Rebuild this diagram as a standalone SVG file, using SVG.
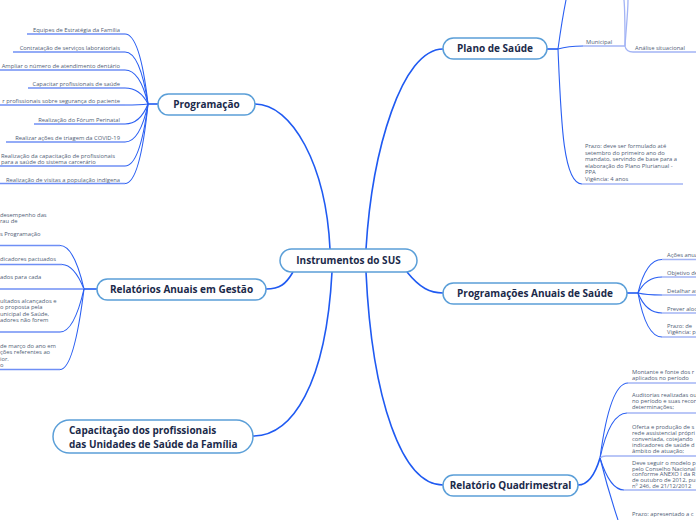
<svg xmlns="http://www.w3.org/2000/svg" width="696" height="520" viewBox="0 0 696 520">
<style>
.node rect{fill:#fff;stroke:#5b9fd8;stroke-width:1.5}
.node text{font-family:"Open Sans","Noto Sans",sans-serif;font-size:10px;font-weight:bold;fill:#1b2a4a;text-anchor:middle}
.main{fill:none;stroke:#1f5af2;stroke-width:1.6}
.br{fill:none;stroke:#2a5ff2;stroke-width:1.1}
.ul{fill:none;stroke:#6f8ff5;stroke-width:1.3}
.ul2{fill:none;stroke:#a3b4f5;stroke-width:1.3}
.lf{font-family:"Open Sans","Noto Sans",sans-serif;font-size:5.8px;fill:#4f5d75}
.r{text-anchor:end}
</style>
<g id="connectors">
<path class="main" d="M330,249 C326,165 292,104 255,104"/>
<path class="main" d="M366,249 C372,150 402,49 443,49"/>
<path class="main" d="M293,272 C286,284 280,289 266,289"/>
<path class="main" d="M332,272 C326,385 292,436 253,436"/>
<path class="main" d="M366,272 C372,400 402,485 443,485"/>
<path class="main" d="M407,272 C420,288 430,293 443,293"/>
<path class="main" d="M158,104 H148"/>
<path class="br" d="M148,104 Q140,34 125,34"/><path class="ul" d="M27,34 H125"/>
<path class="br" d="M148,104 Q140,52 125,52"/><path class="ul" d="M13,52 H125"/>
<path class="br" d="M148,104 Q140,70 125,70"/><path class="ul" d="M0,70 H125"/>
<path class="br" d="M148,104 Q140,88 125,88"/><path class="ul" d="M28,88 H125"/>
<path class="br" d="M148,104 Q140,105 125,105"/><path class="ul" d="M0,105 H125"/>
<path class="br" d="M148,104 Q140,124 125,124"/><path class="ul" d="M34,124 H125"/>
<path class="br" d="M148,104 Q140,142 125,142"/><path class="ul" d="M6,142 H125"/>
<path class="br" d="M148,104 Q140,166 125,166"/><path class="ul" d="M0,166 H125"/>
<path class="br" d="M148,104 Q140,183.5 125,183.5"/><path class="ul" d="M0,183.5 H125"/>
<path class="main" d="M97,289 H84"/>
<path class="br" d="M84,289 Q74,245.5 60,245.5"/><path class="ul" d="M0,245.5 H60"/>
<path class="br" d="M84,289 Q74,264.5 62,264.5"/><path class="ul" d="M0,264.5 H62"/>
<path class="ul" d="M0,289 H84"/>
<path class="br" d="M84,289 Q74,332 60,332"/><path class="ul" d="M0,332 H60"/>
<path class="br" d="M84,289 Q74,369.5 60,369.5"/><path class="ul" d="M0,369.5 H60"/>
<path class="main" d="M547,49 H558"/>
<path class="br" d="M558,49 Q562,20 566,0"/>
<path class="br" d="M558,49 C561,120 563,184 582,184"/><path class="ul2" d="M582,184 H683"/>
<path class="br" d="M558,49 Q568,46 583,46"/><path class="ul2" d="M583,46 H625"/>
<path class="ul2" d="M625,46 C625,25 625,10 624,0"/>
<path class="ul2" d="M625,46 C626,30 628,12 628,0"/>
<path class="ul2" d="M625,46 Q626,52 633,52 H696"/>
<path class="main" d="M627,293 H638"/>
<path class="br" d="M638,293 Q646,259.5 662,259.5"/><path class="ul2" d="M662,259.5 H696"/>
<path class="br" d="M638,293 Q646,277 662,277"/><path class="ul2" d="M662,277 H696"/>
<path class="br" d="M638,293 Q646,295 662,295"/><path class="ul2" d="M662,295 H696"/>
<path class="br" d="M638,293 Q646,313 662,313"/><path class="ul2" d="M662,313 H696"/>
<path class="br" d="M638,293 Q646,337 662,337"/><path class="ul2" d="M662,337 H696"/>
<path class="main" d="M578,485 Q592,485 600,458"/>
<path class="br" d="M600,458 Q610,383 628,383"/><path class="ul2" d="M628,383 H696"/>
<path class="br" d="M600,458 Q610,413 627,413"/><path class="ul2" d="M627,413 H696"/>
<path class="ul2" d="M600,458 Q602,456 606,456 H696"/>
<path class="br" d="M600,458 Q610,490 624,490"/><path class="ul2" d="M624,490 H696"/>
<path class="br" d="M600,458 Q608,490 618,520"/>
</g>
<g id="n-central" class="node"><rect x="280" y="249" width="137" height="23" rx="11.5"/><text x="348.5" y="264">Instrumentos do SUS</text></g>
<g id="n-programacao" class="node"><rect x="158" y="94" width="97" height="21" rx="10.5"/><text x="206.5" y="108">Programação</text></g>
<g id="n-plano" class="node"><rect x="443" y="38" width="104" height="21" rx="10.5"/><text x="495" y="52">Plano de Saúde</text></g>
<g id="n-relatorios" class="node"><rect x="97" y="279" width="169" height="21" rx="10.5"/><text x="181.5" y="293">Relatórios Anuais em Gestão</text></g>
<g id="n-programacoes" class="node"><rect x="443" y="283" width="184" height="21" rx="10.5"/><text x="535" y="297">Programações Anuais de Saúde</text></g>
<g id="n-quadrimestral" class="node"><rect x="443" y="475" width="135" height="21" rx="10.5"/><text x="510.5" y="489">Relatório Quadrimestral</text></g>
<g id="n-capacitacao" class="node"><rect x="53" y="420" width="200" height="33" rx="16.5"/><text x="69" y="433.5" style="text-anchor:start">Capacitação dos profissionais<tspan x="69" dy="14">das Unidades de Saúde da Família</tspan></text></g>
<g id="leaves-programacao" class="lf">
<text class="r" x="120" y="32">Equipes de Estratégia da Família</text>
<text class="r" x="120" y="50">Contratação de serviços laboratoriais</text>
<text class="r" x="120" y="68">Ampliar o número de atendimento dentário</text>
<text class="r" x="120" y="86">Capacitar profissionais de saúde</text>
<text class="r" x="120" y="103">r profissionais sobre segurança do paciente</text>
<text class="r" x="120" y="122">Realização do Fórum Perinatal</text>
<text class="r" x="120" y="140">Realizar ações de triagem da COVID-19</text>
<text x="1" y="158">Realização da capacitação de profissionais<tspan x="1" dy="6">para a saúde do sistema carcerário</tspan></text>
<text class="r" x="120" y="181.5">Realização de visitas a população indígena</text>
</g>
<g id="leaves-relatorios" class="lf">
<text x="0" y="217">desempenho das<tspan x="0" dy="6.3">rau de</tspan><tspan x="0" dy="12.7">s Programação</tspan></text>
<text x="0" y="261">dicadores pactuados</text>
<text x="0" y="278.5">ados para cada</text>
<text x="0" y="303">ultados alcançados e<tspan x="0" dy="6.4">o proposta pela</tspan><tspan x="0" dy="6.4">unicipal de Saúde,</tspan><tspan x="0" dy="6.4">adores não forem</tspan></text>
<text x="0" y="348">de março do ano em<tspan x="0" dy="6.3">ções referentes ao</tspan><tspan x="0" dy="6.3">ior.</tspan><tspan x="0" dy="6.3">o</tspan></text>
</g>
<g id="leaves-plano" class="lf">
<text x="586" y="44">Municipal</text>
<text x="635" y="49.5">Análise situacional</text>
<text x="585" y="148">Prazo: deve ser formulado até<tspan x="585" dy="6.6">setembro do primeiro ano do</tspan><tspan x="585" dy="6.6">mandato, servindo de base para a</tspan><tspan x="585" dy="6.6">elaboração do Plano Plurianual -</tspan><tspan x="585" dy="6.6">PPA</tspan><tspan x="585" dy="6.6">Vigência: 4 anos</tspan></text>
</g>
<g id="leaves-programacoes" class="lf">
<text x="667" y="257">Ações anuais</text>
<text x="667" y="275">Objetivo de</text>
<text x="667" y="293">Detalhar as</text>
<text x="667" y="311">Prever alocação</text>
<text x="667" y="328">Prazo: de<tspan x="667" dy="6">Vigência: p</tspan></text>
</g>
<g id="leaves-quadrimestral" class="lf">
<text x="632" y="374">Montante e fonte dos r<tspan x="632" dy="6">aplicados no período</tspan></text>
<text x="632" y="397">Auditorias realizadas ou<tspan x="632" dy="6">no período e suas recor</tspan><tspan x="632" dy="6">determinações;</tspan></text>
<text x="632" y="429">Oferta e produção de s<tspan x="632" dy="6">rede assistencial própri</tspan><tspan x="632" dy="6">conveniada, cotejando</tspan><tspan x="632" dy="6">indicadores de saúde d</tspan><tspan x="632" dy="6">âmbito de atuação;</tspan></text>
<text x="632" y="465">Deve seguir o modelo p<tspan x="632" dy="5.7">pelo Conselho Nacional</tspan><tspan x="632" dy="5.7">conforme ANEXO I da R</tspan><tspan x="632" dy="5.7">de outubro de 2012, pu</tspan><tspan x="632" dy="5.7">nº 246, de 21/12/2012</tspan></text>
<text x="632" y="516">Prazo: apresentado a c</text>
</g>
</svg>
